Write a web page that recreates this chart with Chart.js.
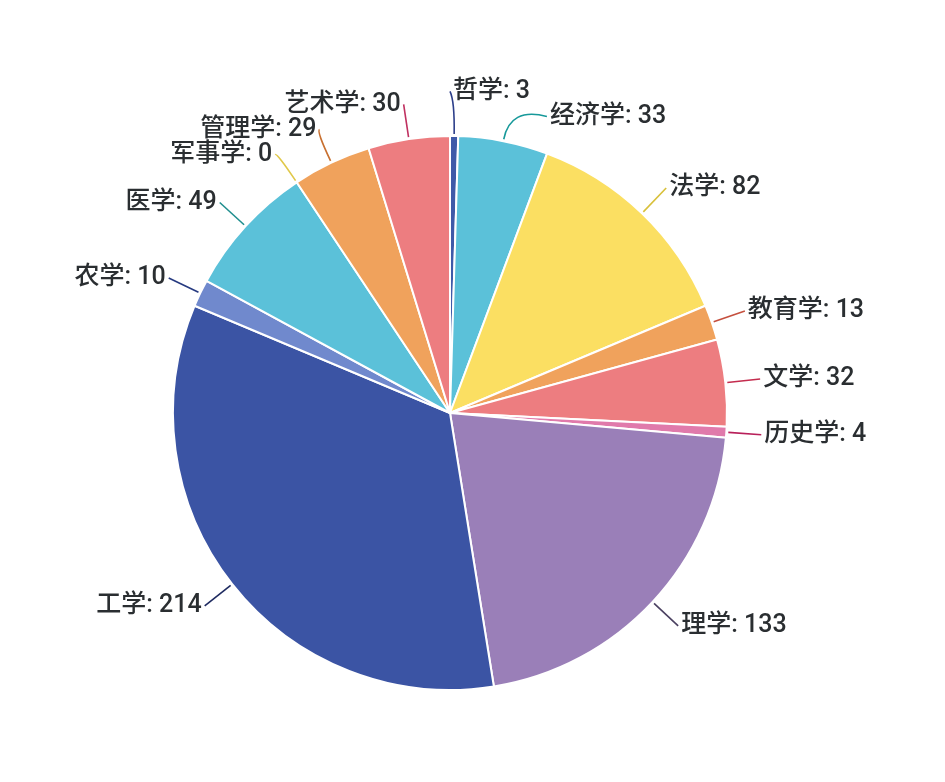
<!DOCTYPE html>
<html>
<head>
<meta charset="utf-8">
<script src="https://cdn.jsdelivr.net/npm/chart.js@4/dist/chart.umd.min.js"></script>
<style>
  html, body { margin: 0; padding: 0; background: #ffffff; }
  #wrap { width: 945px; height: 782px; position: relative; }
</style>
</head>
<body>
<div id="wrap"><canvas id="c" width="945" height="782"></canvas></div>
<script>
// ---- data ----
const categories = ['哲学', '经济学', '法学', '教育学', '文学', '历史学', '理学', '工学', '农学', '医学', '军事学', '管理学', '艺术学'];
const values = [3, 33, 82, 13, 32, 4, 133, 214, 10, 49, 0, 29, 30];

// ---- styles ----
const sliceColors = ['#3f5aa8', '#5bc1d9', '#fbdf62', '#f0a25c', '#ed7d80', '#e07aab', '#9a7fb8', '#3b54a4', '#7089cd', '#5bc1d9', '#fbdf62', '#f0a25c', '#ed7d80'];
const lineColors  = ['#2c3e8a', '#17999a', '#d8c03a', '#c5503e', '#c42c4e', '#b8205a', '#4a4060', '#1e2a60', '#263a80', '#1f8e8e', '#e0c84a', '#c87030', '#c03060'];

const labelPlugin = {
  id: 'outLabels',
  afterDraw(chart) {
    const ctx = chart.ctx;
    const meta = chart.getDatasetMeta(0);
    const H = 25;
    const items = meta.data.map((arc, i) => {
      const p = arc.getProps(['x', 'y', 'startAngle', 'endAngle', 'outerRadius'], true);
      const mid = (p.startAngle + p.endAngle) / 2;
      const r1 = p.outerRadius + 2, r2 = p.outerRadius + 35;
      const c = Math.cos(mid), s = Math.sin(mid);
      return {
        i, cx: p.x, cy: p.y, r2,
        sx: p.x + c * r1, sy: p.y + s * r1,
        px: p.x + c * r2, py: p.y + s * r2,
        ly: p.y + s * r2,
        right: c >= 0
      };
    });
    [true, false].forEach(side => {
      const list = items.filter(o => o.right === side).sort((a, b) => a.py - b.py);
      for (let it = 0; it < 100; it++) {
        for (let k = 1; k < list.length; k++) {
          const gap = list[k].ly - list[k - 1].ly;
          if (gap < H) {
            const sh = (H - gap) / 2;
            list[k - 1].ly -= sh;
            list[k].ly += sh;
          }
        }
      }
    });
    items.forEach(o => {
      const dy = o.ly - o.cy;
      const dx = Math.abs(dy) < o.r2 ? Math.sqrt(o.r2 * o.r2 - dy * dy) : 0;
      o.lx = o.cx + (o.right ? dx : -dx);
    });
    ctx.save();
    ctx.font = '500 25px Roboto, "Noto Sans CJK SC", sans-serif';
    ctx.textBaseline = 'middle';
    items.forEach(o => {
      ctx.strokeStyle = lineColors[o.i];
      ctx.lineWidth = 1.6;
      ctx.beginPath();
      ctx.moveTo(o.sx, o.sy);
      ctx.quadraticCurveTo(o.px, o.py, o.lx, o.ly);
      ctx.stroke();
      ctx.fillStyle = '#2a2e31';
      const txt = categories[o.i] + ': ' + values[o.i];
      if (o.right) {
        ctx.textAlign = 'left';
        ctx.fillText(txt, o.lx + 3, o.ly);
      } else {
        ctx.textAlign = 'right';
        ctx.fillText(txt, o.lx - 3, o.ly);
      }
    });
    ctx.restore();
  }
};

new Chart(document.getElementById('c'), {
  type: 'pie',
  data: {
    labels: categories,
    datasets: [{
      data: values,
      backgroundColor: sliceColors,
      borderColor: '#ffffff',
      borderWidth: 2
    }]
  },
  options: {
    responsive: false,
    maintainAspectRatio: false,
    animation: false,
    layout: { padding: { left: 172, right: 217, top: 135, bottom: 91 } },
    plugins: { legend: { display: false }, tooltip: { enabled: false } }
  },
  plugins: [labelPlugin]
});
</script>
</body>
</html>
